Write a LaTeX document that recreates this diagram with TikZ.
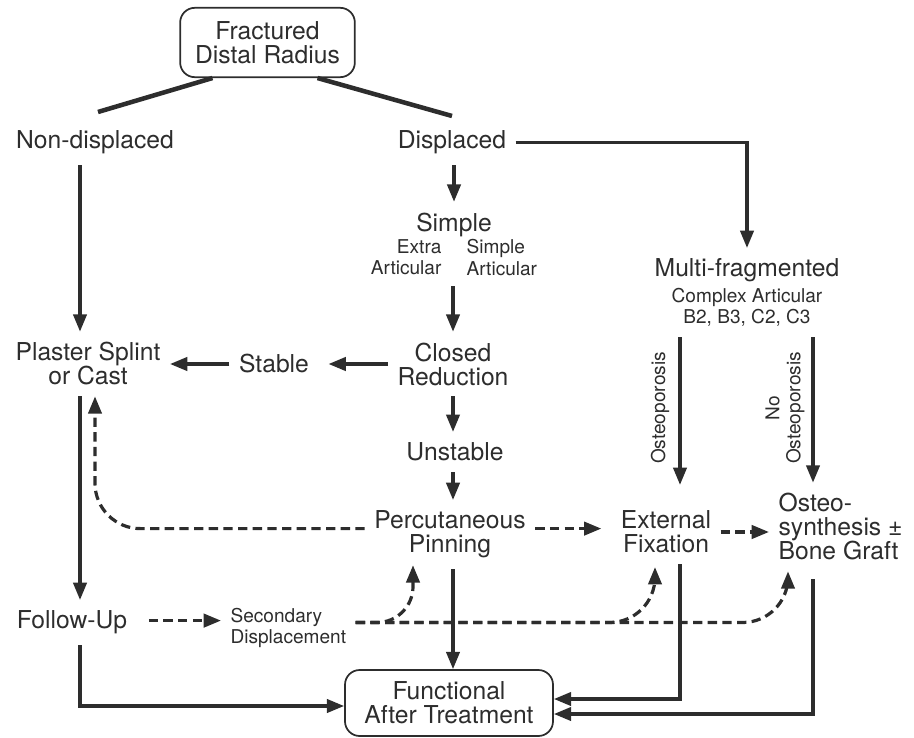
\documentclass[tikz,border=0pt]{standalone}
\usepackage{fontspec}
\setmainfont{TeX Gyre Heros}
\usetikzlibrary{arrows.meta,calc}

\definecolor{ink}{RGB}{45,45,45}

\tikzset{every picture/.style={line width=2.4pt}}
\tikzset{
  big/.style={font=\fontsize{18.5}{18}\selectfont, inner xsep=6pt, inner ysep=7pt, align=center},
  small/.style={font=\fontsize{14.3}{15.8}\selectfont, inner xsep=6pt, inner ysep=7pt, align=center},
  roundbox/.style={big, draw, line width=1.3pt, rounded corners=11pt},
  arr/.style={-{Triangle[length=13pt,width=10pt]}},
  darr/.style={arr, dash pattern=on 7pt off 4pt},
}

\begin{document}
\begin{tikzpicture}[x=0.75pt,y=0.75pt,yscale=-1,xscale=1,color=ink]
	\useasboundingbox (0,0) rectangle (914,738);
	
	% Text Node
	\node[roundbox, minimum width=131pt, minimum height=52pt] (frac) at (267.5,42.5) {Fractured\\Distal Radius};
	% Text Node
	\node[big] (nondisp) at (95,142.6) {Non-displaced};
	% Text Node
	\node[big] (disp) at (452,142.6) {Displaced};
	% Text Node
	\node[big] (simple) at (454,224.6) {Simple};
	% Text Node
	\node[small, align=right, anchor=east] (extra) at (451,257.5) {Extra\\Articular};
	% Text Node
	\node[small, align=left, anchor=west] (simpart) at (457,257.5) {Simple\\Articular};
	% Text Node
	\node[big] (multi) at (747,270.6) {Multi-fragmented};
	% Text Node
	\node[small] (complex) at (747,307.5) {Complex Articular\\B2, B3, C2, C3};
	% Text Node
	\node[big] (plaster) at (88,364) {Plaster Splint\\or Cast};
	% Text Node
	\node[big] (stable) at (274,364) {Stable};
	% Text Node
	\node[big] (closed) at (453,364) {Closed\\Reduction};
	% Text Node
	\node[big] (unstable) at (455,452) {Unstable};
	% Text Node
	\node[big] (perc) at (450,534.6) {Percutaneous\\Pinning};
	% Text Node
	\node[big] (extfix) at (666,532) {External\\Fixation};
	% Text Node
	\node[big, align=left, anchor=west] (osteo) at (769,527) {Osteo-\\synthesis ±\\Bone Graft};
	% Text Node
	\node[big] (followup) at (72,622.6) {Follow-Up};
	% Text Node
	\node[small, align=left, anchor=west] (second) at (221,627.5) {Secondary\\Displacement};
	% Text Node
	\node[roundbox, minimum width=156pt, minimum height=49.5pt] (func) at (449,703) {Functional\\After Treatment};
	% Text Node
	\node[small, rotate=90] (osteolbl) at (660,408) {Osteoporosis};
	% Text Node
	\node[small, rotate=90] (noosteolbl) at (785,408) {No\\Osteoporosis};
	
	% columns of the vertical arrows
	\coordinate (colA) at (80,0);
	\coordinate (colB) at (95,0);
	\coordinate (colE) at (680,0);
	\coordinate (colF) at (813,0);
	
	%Straight Lines
	\draw[line width=3.4pt] ($(frac.south)+(-55,0)$) -- ($(nondisp.north)+(3,-8)$);
	\draw[line width=3.4pt] ($(frac.south)+(50,0)$) -- ($(disp.north)+(0,-4)$);
	
	%Straight Lines
	\draw[arr] (nondisp.south -| colA) -- (plaster.north -| colA);
	\draw[arr] (disp.south -| simple) -- (simple.north);
	\draw[arr] (disp.east) -| (multi.north);
	\draw[arr] (extra.south -| closed) -- (closed.north);
	\draw[arr] (closed.west) -- ($(stable.east)+(10,0)$);
	\draw[arr] (stable.west) -- (plaster.east);
	\draw[arr] (closed.south) -- (closed.south |- unstable.north);
	\draw[arr] (unstable.south -| closed) -- (perc.north -| closed);
	\draw[arr] (perc.south -| closed) -- (func.north -| closed);
	
	%Straight Lines
	\draw[arr] (complex.south -| colE) -- ($(extfix.north -| colE)+(0,-15)$);
	\draw[arr] (complex.south -| colF) -- (osteo.north -| colF);
	\coordinate (pe) at ($(perc.east)+(0,-6)$);
	\draw[darr] (pe) -- ($(pe -| extfix.west)+(-10,0)$);
	\draw[darr] (extfix.east) -- (extfix.east -| osteo.west);
	
	%Straight Lines
	\draw[arr] (plaster.south -| colA) -- (followup.north -| colA);
	\coordinate (fe) at ($(followup.east)+(12,-2)$);
	\draw[darr] (fe) -- (fe -| second.west);
	\draw[arr] (followup.south -| colA) |- ($(func.west)+(0,3)$);
	\draw[arr] (extfix.south -| colE) |- ($(func.east)+(0,-4)$);
	\draw[arr] ($(osteo.south -| colF)+(0,8)$) |- ($(func.east)+(0,11)$);
	
	%Curve Lines
	\coordinate (pw) at ($(perc.west)+(0,-6)$);
	\draw[darr, rounded corners=34pt] (pw) -| (plaster.south -| colB);
	\coordinate (sd) at ($(second.east)+(0,-5)$);
	\draw[darr, rounded corners=27pt] (sd) -| ($(perc.south)+(-37,-4)$);
	\draw[darr, rounded corners=34pt] (sd) -| ($(extfix.south)+(-11,3)$);
	\draw[darr, rounded corners=34pt] (sd) -| ($(osteo.south west)+(19,0)$);
	
\end{tikzpicture}
\end{document}
